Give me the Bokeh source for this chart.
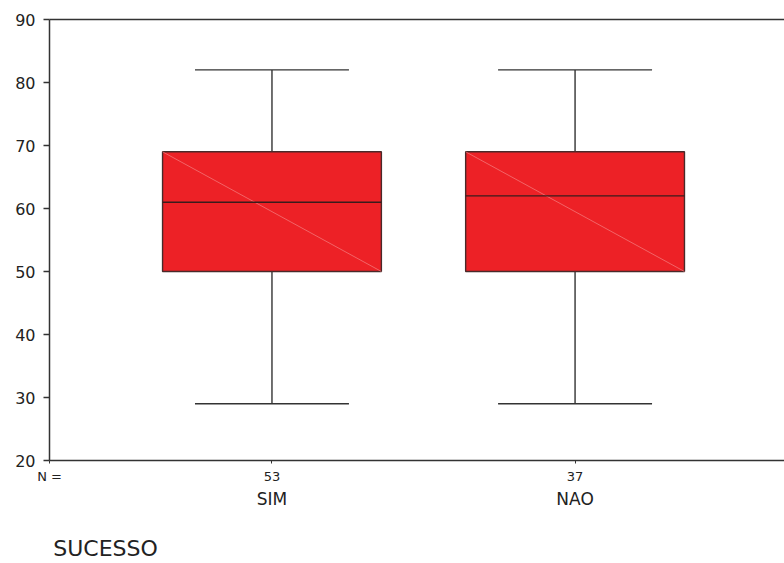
from bokeh.plotting import figure
from bokeh.models import Range1d, LinearAxis, FixedTicker
from bokeh.embed import file_html
from bokeh.resources import INLINE

# ---- data ----
categories = ["SIM", "NAO"]
counts = ["53", "37"]
lower_whisker = [29, 29]
q1 = [50, 50]
median = [61, 62]
q3 = [69, 69]
upper_whisker = [82, 82]
y_ticks = [20, 30, 40, 50, 60, 70, 80, 90]
x_title = "SUCESSO"
n_label = "N ="

FONT = "DejaVu Sans"
TXT = "#222222"
AX = "#333333"

xs = [i + 1 for i in range(len(categories))]
box_w = 0.722
cap_w = 0.508
x0, x1 = 0.266, 2.691

p = figure(width=784, height=563, x_range=Range1d(x0, x1), y_range=Range1d(20, 90),
           output_backend="svg", toolbar_location=None, x_axis_type=None,
           min_border_left=49, min_border_right=0, min_border_top=19, min_border_bottom=103)
p.grid.visible = False
p.outline_line_color = None
p.background_fill_color = "white"
p.border_fill_color = "white"

# y axis
ya = p.yaxis[0]
ya.ticker = FixedTicker(ticks=y_ticks)
ya.major_tick_out = 6
ya.major_tick_in = 0
ya.minor_tick_out = 0
ya.minor_tick_in = 0
ya.axis_line_width = 1.5
ya.axis_line_color = AX
ya.major_tick_line_color = AX
ya.major_tick_line_width = 1.3
ya.major_label_text_font = FONT
ya.major_label_text_font_size = "16px"
ya.major_label_text_color = TXT
ya.major_label_standoff = 8

# top line
top = LinearAxis(ticker=FixedTicker(ticks=[]), major_label_text_font_size="0px",
                 major_tick_out=0, major_tick_in=0, minor_tick_out=0, minor_tick_in=0,
                 axis_line_width=1.5, axis_line_color=AX)
p.add_layout(top, "above")

# bottom axis with counts (and "N =" at the left edge)
n_pos = x0 + 0.0004
ax_n_ticks = [n_pos] + xs
ax_n_labels = {n_pos: n_label}
ax_n_labels.update({x: c for x, c in zip(xs, counts)})
ax_n = LinearAxis(ticker=FixedTicker(ticks=ax_n_ticks),
                  major_label_overrides=ax_n_labels,
                  major_tick_out=3, major_tick_in=0, minor_tick_out=0, minor_tick_in=0,
                  axis_line_width=1.5, axis_line_color=AX, major_tick_line_color=AX,
                  major_label_text_font=FONT, major_label_text_font_size="13px",
                  major_label_text_color=TXT, major_label_standoff=5)
p.add_layout(ax_n, "below")

# category axis
ax_c = LinearAxis(ticker=FixedTicker(ticks=xs),
                  major_label_overrides={x: c for x, c in zip(xs, categories)},
                  major_tick_out=0, major_tick_in=0, minor_tick_out=0, minor_tick_in=0,
                  axis_line_color=None,
                  major_label_text_font=FONT, major_label_text_font_size="17px",
                  major_label_text_color=TXT, major_label_standoff=2)
p.add_layout(ax_c, "below")

# variable title axis
t_pos = x0 + 56 / 303
ax_t = LinearAxis(ticker=FixedTicker(ticks=[t_pos]),
                  major_label_overrides={t_pos: x_title},
                  major_tick_out=0, major_tick_in=0, minor_tick_out=0, minor_tick_in=0,
                  axis_line_color=None,
                  major_label_text_font=FONT, major_label_text_font_size="22px",
                  major_label_text_color=TXT, major_label_standoff=24)
p.add_layout(ax_t, "below")

# whiskers
p.segment(x0=xs, y0=q3, x1=xs, y1=upper_whisker, line_color=AX, line_width=1.4)
p.segment(x0=xs, y0=lower_whisker, x1=xs, y1=q1, line_color=AX, line_width=1.4)
p.segment(x0=[x - cap_w / 2 for x in xs], y0=upper_whisker,
          x1=[x + cap_w / 2 for x in xs], y1=upper_whisker, line_color=AX, line_width=1.4)
p.segment(x0=[x - cap_w / 2 for x in xs], y0=lower_whisker,
          x1=[x + cap_w / 2 for x in xs], y1=lower_whisker, line_color=AX, line_width=1.4)

# boxes
p.vbar(x=xs, width=box_w, top=q3, bottom=q1, fill_color="#ED2126",
       line_color="#4a2a2a", line_width=1.4)
# faint diagonal
p.segment(x0=[x - box_w / 2 for x in xs], y0=q3, x1=[x + box_w / 2 for x in xs], y1=q1,
          line_color="#F58A8C", line_width=0.8, line_alpha=0.8)
# medians
p.segment(x0=[x - box_w / 2 for x in xs], y0=median, x1=[x + box_w / 2 for x in xs],
          y1=median, line_color="#3a1c1c", line_width=1.4)

open("out.html", "w").write(file_html(p, INLINE))
